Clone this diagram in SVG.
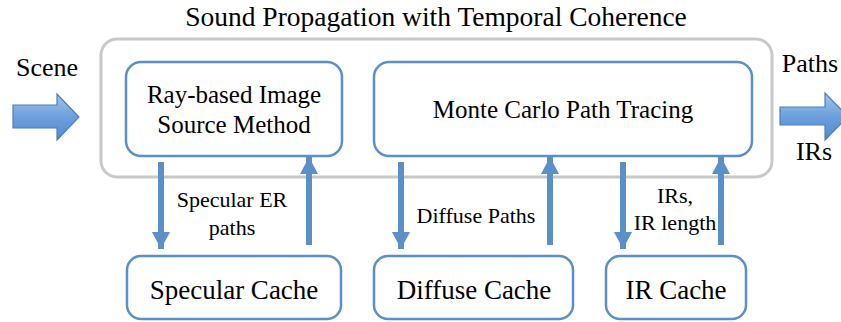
<svg xmlns="http://www.w3.org/2000/svg" width="841" height="322" viewBox="0 0 841 322">
<defs>
<style>
text{font-family:"Liberation Serif","Times New Roman",serif;fill:#000;text-anchor:middle}
.box{fill:#fff;stroke:#5b8fc9;stroke-width:2.5}
.conn{stroke:#5b8fc9;stroke-width:6;fill:none}
.big{fill:url(#g);stroke:#4a7ebb;stroke-width:1.2}
.lbl{font-size:22px}
</style>
<linearGradient id="g" x1="0" y1="0" x2="0" y2="1">
<stop offset="0" stop-color="#a3c4ec"/>
<stop offset="0.5" stop-color="#6c9fdc"/>
<stop offset="1" stop-color="#5389d0"/>
</linearGradient>
<marker id="ah" markerUnits="userSpaceOnUse" markerWidth="18" markerHeight="18" refX="16" refY="8.5" orient="auto" viewBox="0 0 17 17">
<path d="M0,0 L16,8.5 L0,17 Z" fill="#5b8fc9"/>
</marker>
</defs>
<text x="436" y="26" font-size="27.5">Sound Propagation with Temporal Coherence</text>
<rect x="101" y="39" width="671" height="138" rx="16" fill="#fff" stroke="#c8c8c8" stroke-width="3"/>
<g id="scene-in">
<text x="47" y="76" font-size="26">Scene</text>
<polygon class="big" points="13,105 57,105 57,94 79,117 57,140 57,128 13,128"/>
</g>
<g id="out">
<text x="810" y="72" font-size="26">Paths</text>
<text x="814" y="160" font-size="26">IRs</text>
<polygon class="big" points="780,107 825,107 825,93 848,116.5 825,140 825,125 780,125"/>
</g>
<g id="rbism">
<rect class="box" x="126" y="62" width="216" height="94" rx="15"/>
<text x="234" y="103" font-size="25">Ray-based Image</text>
<text x="234" y="133" font-size="25">Source Method</text>
</g>
<g id="mcpt">
<rect class="box" x="374" y="62" width="378" height="94" rx="15"/>
<text x="563" y="118" font-size="25">Monte Carlo Path Tracing</text>
</g>
<g id="specular-cache">
<rect class="box" x="127" y="256" width="214" height="63" rx="14"/>
<text x="234" y="299" font-size="27">Specular Cache</text>
</g>
<g id="diffuse-cache">
<rect class="box" x="374" y="256" width="199" height="63" rx="14"/>
<text x="474" y="299" font-size="27">Diffuse Cache</text>
</g>
<g id="ir-cache">
<rect class="box" x="606" y="256" width="140" height="63" rx="14"/>
<text x="676" y="299" font-size="27">IR Cache</text>
</g>
<g id="connectors">
<line class="conn" x1="161" y1="162" x2="161" y2="249" marker-end="url(#ah)"/>
<line class="conn" x1="309" y1="245" x2="309" y2="157" marker-end="url(#ah)"/>
<line class="conn" x1="401" y1="162" x2="401" y2="249" marker-end="url(#ah)"/>
<line class="conn" x1="550" y1="245" x2="550" y2="157" marker-end="url(#ah)"/>
<line class="conn" x1="623" y1="162" x2="623" y2="249" marker-end="url(#ah)"/>
<line class="conn" x1="721" y1="245" x2="721" y2="157" marker-end="url(#ah)"/>
<text class="lbl" x="232" y="207">Specular ER</text>
<text class="lbl" x="232" y="235">paths</text>
<text class="lbl" x="476" y="223">Diffuse Paths</text>
<text class="lbl" x="675" y="203">IRs,</text>
<text class="lbl" x="675" y="230">IR length</text>
</g>
</svg>
